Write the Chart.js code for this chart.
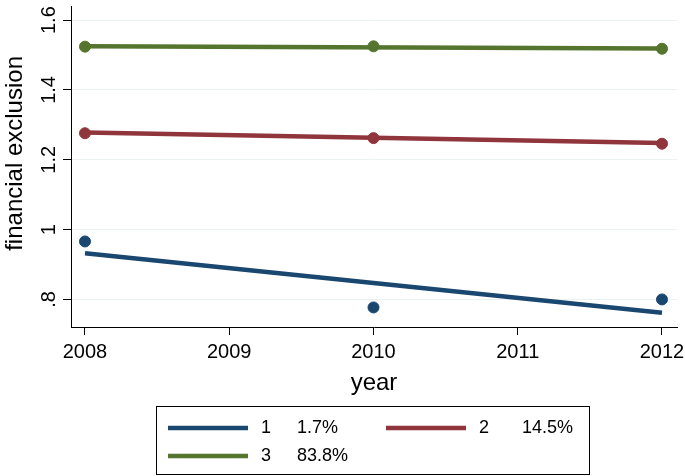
<!DOCTYPE html>
<html lang="en">

<head>
    <meta charset="UTF-8">
    <title>financial exclusion by year</title>
    <style>
        body { margin: 0; background: #fff; }
        #wrap { width: 685px; height: 476px; }
    </style>
</head>

<body>
    <div id="wrap"><canvas id="fx"></canvas></div>
    <script src="https://cdn.jsdelivr.net/npm/chart.js"></script>
    <script>
        // observed group means
        const years = [2008, 2010, 2012];
        const meanG1 = [0.966, 0.777, 0.800];
        const meanG2 = [1.276, 1.262, 1.246];
        const meanG3 = [1.524, 1.525, 1.518];

        // linear fits, drawn from first to last year
        const fitYears = [2008, 2012];
        const fitG1 = [0.932, 0.762];
        const fitG2 = [1.278, 1.248];
        const fitG3 = [1.525, 1.519];

        const groupNames = ['1', '2', '3'];
        const groupShares = ['1.7%', '14.5%', '83.8%'];

        const xTicks = [2008, 2009, 2010, 2011, 2012];
        const yTicks = [0.8, 1, 1.2, 1.4, 1.6];
        const yTickLabels = ['.8', '1', '1.2', '1.4', '1.6'];

        const colors = ['#1a476f', '#90353b', '#55752f'];
        const FONT = 'Liberation Sans, Arial, sans-serif';

        function pts(xs, ys) {
            return xs.map((x, i) => ({ x: x, y: ys[i] }));
        }

        const means = [meanG1, meanG2, meanG3];
        const fits = [fitG1, fitG2, fitG3];
        const datasets = [];
        means.forEach(function (m, i) {
            datasets.push({
                type: 'scatter',
                label: groupNames[i] + ' mean',
                data: pts(years, m),
                backgroundColor: colors[i],
                borderColor: colors[i],
                pointRadius: 5.5,
                pointHoverRadius: 5.5,
                showLine: false
            });
        });
        fits.forEach(function (f, i) {
            datasets.push({
                type: 'line',
                label: groupNames[i],
                data: pts(fitYears, f),
                borderColor: colors[i],
                borderWidth: 4.5,
                pointRadius: 0,
                fill: false
            });
        });

        // boxed legend under the plot, two columns
        const boxLegend = {
            id: 'boxLegend',
            afterDraw(chart) {
                const ctx = chart.ctx;
                ctx.save();
                ctx.strokeStyle = '#000';
                ctx.lineWidth = 1;
                ctx.strokeRect(156.5, 406.5, 433, 68);
                const cols = [168, 386];
                const rows = [428, 456];
                const pctOff = [129, 136];
                ctx.font = '18px ' + FONT;
                ctx.textBaseline = 'middle';
                ctx.fillStyle = '#000';
                groupNames.forEach(function (g, i) {
                    const c = i % 2, r = Math.floor(i / 2);
                    const x = cols[c], y = rows[r];
                    ctx.strokeStyle = colors[i];
                    ctx.lineWidth = 4.5;
                    ctx.beginPath();
                    ctx.moveTo(x, y);
                    ctx.lineTo(x + 80, y);
                    ctx.stroke();
                    ctx.fillText(g, x + 93, y);
                    ctx.fillText(groupShares[i], x + pctOff[c], y);
                });
                ctx.restore();
            }
        };

        new Chart(document.getElementById('fx'), {
            data: { datasets: datasets },
            options: {
                responsive: true,
                maintainAspectRatio: false,
                animation: false,
                layout: { padding: { top: 1, right: 8, bottom: 78, left: 0 } },
                plugins: {
                    legend: { display: false },
                    tooltip: { enabled: false }
                },
                scales: {
                    x: {
                        type: 'linear',
                        min: 2007.903,
                        max: 2012.104,
                        afterBuildTicks: function (axis) {
                            axis.ticks = xTicks.map(v => ({ value: v }));
                        },
                        afterFit: function (axis) {
                            axis.height = 71;
                            axis.paddingLeft = 0;
                            axis.paddingRight = 0;
                        },
                        ticks: {
                            color: '#000',
                            font: { family: FONT, size: 20 },
                            padding: 5,
                            maxRotation: 0,
                            callback: v => String(v)
                        },
                        grid: {
                            drawOnChartArea: false,
                            tickLength: 8,
                            tickColor: '#000'
                        },
                        border: { display: true, color: '#000', width: 1 },
                        title: {
                            display: true,
                            text: 'year',
                            color: '#000',
                            font: { family: FONT, size: 24 },
                            padding: { top: 0, bottom: 0 }
                        }
                    },
                    y: {
                        type: 'linear',
                        min: 0.721,
                        max: 1.639,
                        afterBuildTicks: function (axis) {
                            axis.ticks = yTicks.map(v => ({ value: v }));
                        },
                        afterFit: function (axis) {
                            axis.width = 71;
                            axis.paddingTop = 0;
                            axis.paddingBottom = 0;
                        },
                        ticks: {
                            color: '#000',
                            font: { family: FONT, size: 20 },
                            minRotation: 90,
                            maxRotation: 90,
                            crossAlign: 'center',
                            padding: 0,
                            callback: function (v) {
                                const i = yTicks.findIndex(t => Math.abs(t - v) < 1e-9);
                                return i >= 0 ? yTickLabels[i] : '';
                            }
                        },
                        grid: {
                            color: '#eaf2f3',
                            tickLength: 8,
                            tickColor: '#000'
                        },
                        border: { display: true, color: '#000', width: 1 },
                        title: {
                            display: true,
                            text: '    financial exclusion',
                            color: '#000',
                            font: { family: FONT, size: 24 },
                            padding: { top: 1, bottom: 0 }
                        }
                    }
                }
            },
            plugins: [boxLegend]
        });
    </script>
</body>

</html>
